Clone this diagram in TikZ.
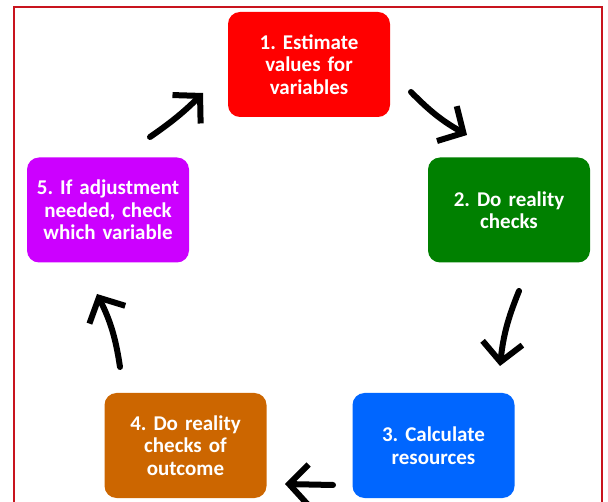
\documentclass[tikz,border=0pt]{standalone}
\usepackage{fontspec}
\setmainfont{Carlito}
\usetikzlibrary{arrows.meta}

\definecolor{estred}{HTML}{FF0000}
\definecolor{chkgreen}{HTML}{008000}
\definecolor{calcblue}{HTML}{0066FF}
\definecolor{outorange}{HTML}{CC6600}
\definecolor{adjpurple}{HTML}{CC00FF}
\definecolor{framered}{HTML}{C8141E}

\begin{document}
\frenchspacing
\begin{tikzpicture}[x=1pt,y=-1pt,
    stepbox/.style={rounded corners=12pt, minimum width=162pt, minimum height=105pt,
        text width=150pt, align=center, text=white, inner sep=0pt,
        font=\fontsize{21}{22.5}\selectfont\bfseries},
    cyc/.style={line width=6pt, line cap=round,
        -{Straight Barb[length=19pt,width=40pt,line join=miter]}}]

    \useasboundingbox (0,0) rectangle (608,502);

    % Draw frame
    \draw[framered, line width=2pt] (14,510) -- (14,7) -- (602,7) -- (602,510);

    % Draw steps
    \node[stepbox, fill=estred] (est) at (309,64.5) {1. Estimate\\values for\\variables};
    \node[stepbox, fill=chkgreen] (chk) at (509,210) {2. Do reality\\checks};
    \node[stepbox, fill=calcblue] (calc) at (433.5,445.5) {3. Calculate\\resources};
    \node[stepbox, fill=outorange] (out) at (185.5,445.5) {4. Do reality\\checks of\\outcome};
    \node[stepbox, fill=adjpurple] (adj) at (108,210) {5. If adjustment\\needed, check\\which variable};

    % Arrow ends
    \coordinate (a12) at (411,92);
    \coordinate (b12) at (467,135);
    \coordinate (a23) at (519,291);
    \coordinate (b23) at (500,366);
    \coordinate (a34) at (333,485);
    \coordinate (b34) at (285,484);
    \coordinate (a45) at (120,367);
    \coordinate (b45) at (97,294);
    \coordinate (a51) at (150,137);
    \coordinate (b51) at (203,93);

    % Draw arrows
    \draw[cyc] (a12) to[bend right=8] (b12);
    \draw[cyc] (a23) to[bend right=8] (b23);
    \draw[cyc] (a34) -- (b34);
    \draw[cyc] (a45) to[bend right=9] (b45);
    \draw[cyc] (a51) to[bend right=5] (b51);

\end{tikzpicture}
\end{document}
